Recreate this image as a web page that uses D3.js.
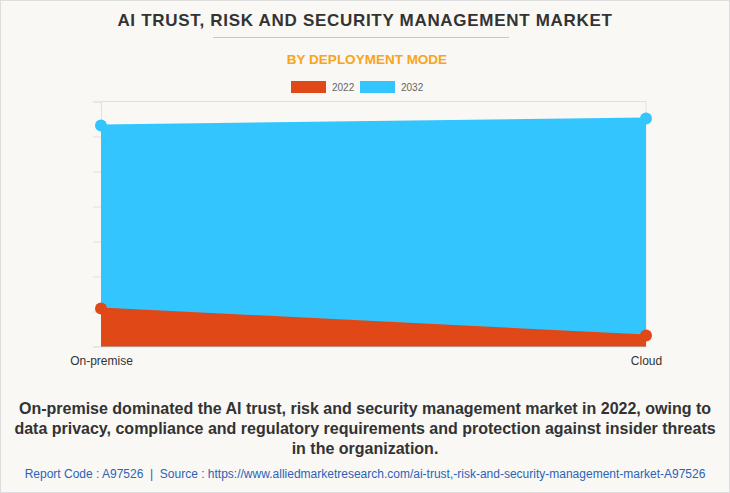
<!DOCTYPE html>
<html>
<head>
<meta charset="utf-8">
<script src="https://cdn.jsdelivr.net/npm/d3@7"></script>
<style>
  body { margin: 0; background: #f9f8f4; }
  svg { display: block; font-family: "Liberation Sans", Arial, sans-serif; }
</style>
</head>
<body>
<div id="chart"></div>
<script>
// Data
var categories = ["On-premise", "Cloud"];
var seriesNames = ["2032", "2022"];
var values2022 = [543, 157];
var values2032 = [3157, 3257];
var colors = {"2022": "#e04818", "2032": "#33c5fe"};
var yTicks = [0, 500, 1000, 1500, 2000, 2500, 3000, 3500];

var W = 730, H = 493;
var margin = {top: 101.5, left: 101, right: 84, bottom: 146.5};
var width = W - margin.left - margin.right,
    height = H - margin.top - margin.bottom;

var svg = d3.select("#chart").append("svg")
    .attr("width", W).attr("height", H);

svg.append("rect").attr("x", 0.5).attr("y", 0.5)
    .attr("width", W - 1).attr("height", H - 1)
    .attr("fill", "#f9f8f4").attr("stroke", "#dddddd");

// Titles
svg.append("text").attr("x", 365).attr("y", 26)
    .attr("text-anchor", "middle")
    .style("font-size", "17px").style("font-weight", "bold")
    .style("letter-spacing", "0.7px")
    .attr("fill", "#333333")
    .text("AI TRUST, RISK AND SECURITY MANAGEMENT MARKET");

svg.append("line").attr("x1", 213).attr("x2", 509)
    .attr("y1", 37.5).attr("y2", 37.5)
    .attr("stroke", "#c8c8c8").attr("stroke-width", 1);

svg.append("text").attr("x", 367).attr("y", 64)
    .attr("text-anchor", "middle")
    .style("font-size", "13.5px").style("font-weight", "bold")
    .attr("fill", "#f7a521")
    .text("BY DEPLOYMENT MODE");

// Legend
var legend = svg.append("g");
var legendItems = [{name: "2022", x: 291}, {name: "2032", x: 360}];
legendItems.forEach(function(d) {
  legend.append("rect").attr("x", d.x).attr("y", 81)
      .attr("width", 35).attr("height", 12)
      .attr("fill", colors[d.name]);
  legend.append("text").attr("x", d.x + 41).attr("y", 91)
      .style("font-size", "10px").attr("fill", "#666666")
      .text(d.name);
});

var g = svg.append("g")
    .attr("transform", "translate(" + margin.left + "," + margin.top + ")");

var x = d3.scalePoint().domain(categories).range([0, width]);
var y = d3.scaleLinear().domain([0, 3500]).range([height, 0]);

// top gridline and right border
g.append("line").attr("x1", 0).attr("x2", width)
    .attr("y1", 0).attr("y2", 0).attr("stroke", "#e3e1dc");
g.append("line").attr("x1", width).attr("x2", width)
    .attr("y1", 0).attr("y2", height).attr("stroke", "#e3e1dc");

// y axis (ticks only)
g.append("g")
  .call(d3.axisLeft(y).tickValues(yTicks).tickSize(8).tickFormat(""))
  .call(function(a) {
    a.select(".domain").attr("stroke", "#e3e1dc");
    a.selectAll(".tick line").attr("stroke", "#e3e1dc");
  });

// x axis
g.append("g")
  .attr("transform", "translate(0," + height + ")")
  .call(d3.axisBottom(x).tickSize(0).tickPadding(10))
  .call(function(a) {
    a.select(".domain").attr("stroke", "#e3e1dc");
    a.selectAll("text").style("font-size", "12px").attr("fill", "#333333")
      .style("font-family", "'Liberation Sans', Arial, sans-serif");
  });

var data = {"2022": values2022, "2032": values2032};

var area = d3.area()
    .x(function(d, i) { return x(categories[i]); })
    .y0(height)
    .y1(function(d) { return y(d); });

seriesNames.forEach(function(name) {
  g.append("path").datum(data[name])
      .attr("fill", colors[name])
      .attr("d", area);
  g.append("path").datum(data[name])
      .attr("fill", "none").attr("stroke", colors[name]).attr("stroke-width", 2)
      .attr("d", d3.line()
        .x(function(d, i) { return x(categories[i]); })
        .y(function(d) { return y(d); }));
  g.selectAll(".dot" + name).data(data[name]).enter()
      .append("circle")
      .attr("cx", function(d, i) { return x(categories[i]); })
      .attr("cy", function(d) { return y(d); })
      .attr("r", 6)
      .attr("fill", colors[name]);
});

// Footnote
var notes = [
  "On-premise dominated the AI trust, risk and security management market in 2022, owing to",
  "data privacy, compliance and regulatory requirements and protection against insider threats",
  "in the organization."
];
notes.forEach(function(t, i) {
  svg.append("text").attr("x", 365).attr("y", 414 + i * 20)
      .attr("text-anchor", "middle")
      .style("font-size", "16px").style("font-weight", "bold")
      .attr("fill", "#333333")
      .text(t);
});

svg.append("text").attr("x", 365).attr("y", 478)
    .attr("text-anchor", "middle")
    .style("font-size", "12px")
    .style("white-space", "pre")
    .style("font-family", "'Liberation Sans Narrow', 'Liberation Sans', Arial, sans-serif")
    .attr("fill", "#2b63b8")
    .text("Report Code : A97526  |  Source : https://www.alliedmarketresearch.com/ai-trust,-risk-and-security-management-market-A97526");
</script>
</body>
</html>
